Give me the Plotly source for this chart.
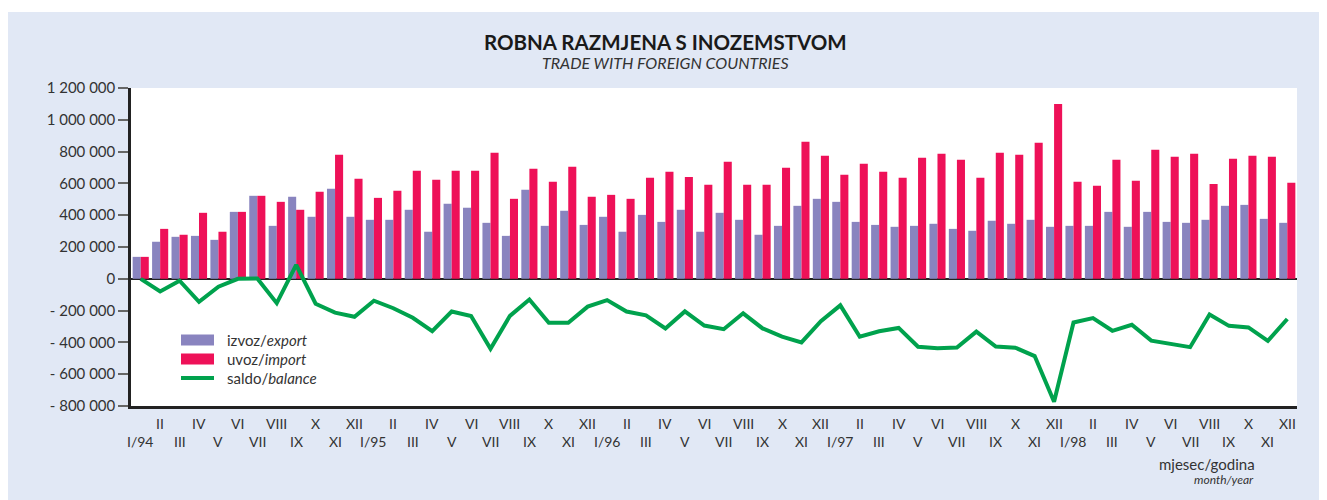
import plotly.graph_objects as go

months = ["I/94", "II", "III", "IV", "V", "VI", "VII", "VIII", "IX", "X", "XI", "XII",
          "I/95", "II", "III", "IV", "V", "VI", "VII", "VIII", "IX", "X", "XI", "XII",
          "I/96", "II", "III", "IV", "V", "VI", "VII", "VIII", "IX", "X", "XI", "XII",
          "I/97", "II", "III", "IV", "V", "VI", "VII", "VIII", "IX", "X", "XI", "XII",
          "I/98", "II", "III", "IV", "V", "VI", "VII", "VIII", "IX", "X", "XI", "XII"]

export = [138000, 233000, 264000, 270000, 245000, 421000, 522000, 333000, 516000, 390000, 566000, 390000,
          371000, 371000, 434000, 296000, 472000, 447000, 352000, 270000, 560000, 333000, 428000, 339000,
          390000, 296000, 402000, 358000, 434000, 296000, 415000, 371000, 277000, 333000, 459000, 503000,
          484000, 358000, 339000, 327000, 333000, 346000, 314000, 302000, 365000, 346000, 371000, 327000,
          333000, 333000, 421000, 327000, 421000, 358000, 352000, 371000, 459000, 465000, 377000, 352000]

imports = [138000, 314000, 277000, 415000, 296000, 421000, 522000, 484000, 434000, 547000, 780000, 629000,
           509000, 553000, 679000, 623000, 679000, 679000, 792000, 503000, 692000, 610000, 704000, 516000,
           528000, 503000, 635000, 673000, 641000, 591000, 736000, 591000, 591000, 698000, 862000, 774000,
           654000, 723000, 673000, 635000, 761000, 786000, 748000, 635000, 792000, 780000, 855000, 1100000,
           610000, 585000, 748000, 616000, 811000, 767000, 786000, 597000, 755000, 774000, 767000, 604000]

balance = [0, -80000, -12000, -145000, -50000, 0, 2000, -153000, 88000, -157000, -213000, -239000,
           -138000, -185000, -245000, -329000, -206000, -234000, -440000, -233000, -130000, -276000, -276000, -175000,
           -134000, -206000, -230000, -312000, -205000, -294000, -317000, -217000, -312000, -364000, -400000, -266000,
           -167000, -364000, -330000, -309000, -427000, -437000, -432000, -332000, -426000, -433000, -486000, -773000,
           -275000, -247000, -327000, -289000, -389000, -409000, -430000, -224000, -296000, -306000, -390000, -253000]

y_ticks = [1200000, 1000000, 800000, 600000, 400000, 200000, 0,
           -200000, -400000, -600000, -800000]
y_labels = ["1 200 000", "1 000 000", "800 000", "600 000", "400 000", "200 000", "0",
            "- 200 000", "- 400 000", "- 600 000", "- 800 000"]

series_names = ["izvoz/<i>export</i>", "uvoz/<i>import</i>", "saldo/<i>balance</i>"]
c_export = "#8984bf"
c_import = "#ee1158"
c_balance = "#00a24d"
bg = "#e1e8f5"
FONT = "Lato"

# plot area in screen pixels (page body has an 8px margin)
PL, PR, PT, PB = 131, 1297, 88, 406
PW, PH = PR - PL, PB - PT
FW, FH = 1319, 492


def px(sx):
    return (sx - PL) / PW


def py(sy):
    return (PB - sy) / PH


x = list(range(len(months)))

fig = go.Figure()
fig.add_trace(go.Bar(x=x, y=export, marker=dict(color=c_export, line=dict(width=0)),
                     name="izvoz/export", showlegend=False))
fig.add_trace(go.Bar(x=x, y=imports, marker=dict(color=c_import, line=dict(width=0)),
                     name="uvoz/import", showlegend=False))
fig.add_trace(go.Scatter(x=x, y=balance, mode="lines", line=dict(color=c_balance, width=4),
                         name="saldo/balance", showlegend=False))

annotations = []
for i, m in enumerate(months):
    annotations.append(dict(x=i, y=py(423) if i % 2 == 1 else py(441), xref="x", yref="paper",
                            text=m, showarrow=False, xanchor="center", yanchor="middle",
                            font=dict(family=FONT, size=14, color="#333333")))

# Title
annotations.append(dict(x=px(665), y=py(42), xref="paper", yref="paper",
                        text="<b>ROBNA RAZMJENA S INOZEMSTVOM</b>", showarrow=False,
                        xanchor="center", yanchor="middle", borderpad=0,
                        font=dict(family=FONT, size=20.5, color="#1a1a1a")))
annotations.append(dict(x=px(665), y=py(63), xref="paper", yref="paper",
                        text="<i>TRADE WITH FOREIGN COUNTRIES</i>", showarrow=False,
                        xanchor="center", yanchor="middle", borderpad=0,
                        font=dict(family=FONT, size=16, color="#333333")))
# Axis caption
annotations.append(dict(x=px(1257), y=py(464), xref="paper", yref="paper",
                        text="mjesec/godina", showarrow=False, xanchor="right", yanchor="middle",
                        font=dict(family=FONT, size=15, color="#333333")))
annotations.append(dict(x=px(1256), y=py(479), xref="paper", yref="paper",
                        text="<i>month/year</i>", showarrow=False, xanchor="right", yanchor="middle",
                        font=dict(family=FONT, size=12, color="#333333")))

# Custom legend
shapes = []
leg_y = [340, 359, 378]
for k, (name, col) in enumerate(zip(series_names, [c_export, c_import, c_balance])):
    yc = py(leg_y[k])
    x0, x1 = px(181), px(214)
    if k < 2:
        shapes.append(dict(type="rect", xref="paper", yref="paper", x0=x0, x1=x1,
                           y0=yc - 5.5 / PH, y1=yc + 5.5 / PH, fillcolor=col, line=dict(width=0)))
    else:
        shapes.append(dict(type="line", xref="paper", yref="paper", x0=x0, x1=x1,
                           y0=yc, y1=yc, line=dict(color=col, width=4)))
    annotations.append(dict(x=px(225), y=yc, xref="paper", yref="paper", text=name,
                            showarrow=False, xanchor="left", yanchor="middle",
                            font=dict(family=FONT, size=15, color="#333333")))

# thin white strip at top of the figure
shapes.append(dict(type="rect", xref="paper", yref="paper", x0=-0.2, x1=1.1,
                   y0=py(12), y1=py(0), fillcolor="white", line=dict(width=0), layer="below"))

fig.update_layout(
    width=FW, height=FH,
    margin=dict(l=PL - 8, r=FW - (PR - 8), t=PT - 8, b=FH - (PB - 8)),
    paper_bgcolor=bg, plot_bgcolor="white",
    barmode="group", bargap=0.17, bargroupgap=0,
    font=dict(family=FONT, color="#333333"),
    annotations=annotations, shapes=shapes,
    xaxis=dict(range=[-0.5, len(months) - 0.5], showticklabels=False, ticks="",
               showgrid=False, zeroline=False, showline=True, linecolor="#222222", linewidth=2.5,
               fixedrange=True),
    yaxis=dict(range=[-800000, 1200000], tickvals=y_ticks, ticktext=y_labels,
               ticks="outside", ticklen=10, tickwidth=2, tickcolor="#666666",
               tickfont=dict(family=FONT, size=15, color="#333333"),
               showgrid=False, zeroline=True, zerolinecolor="#222222", zerolinewidth=2,
               showline=True, linecolor="#222222", linewidth=2.5, fixedrange=True),
)

fig.write_html("out.html")
